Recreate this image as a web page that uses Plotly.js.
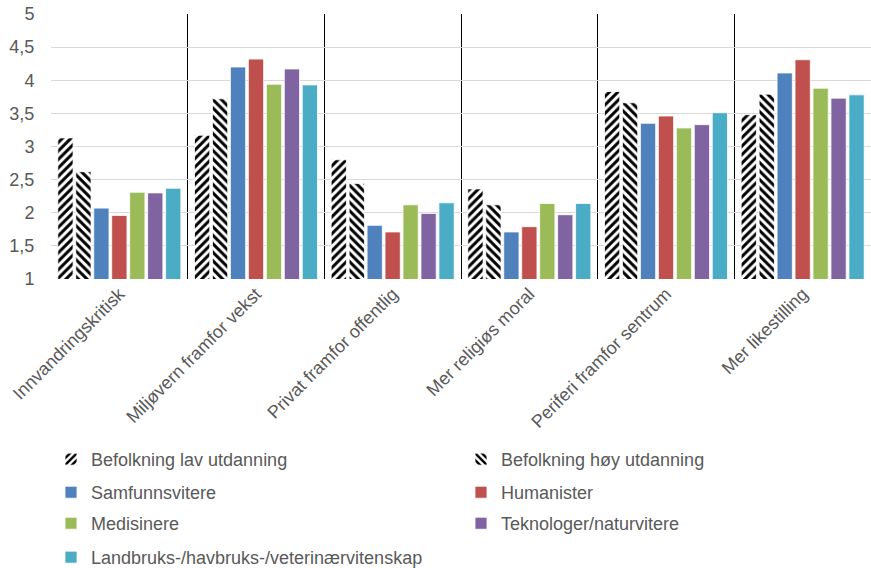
<!DOCTYPE html>
<html>
<head>
<meta charset="utf-8">
<script src="https://cdn.plot.ly/plotly-3.0.1.min.js"></script>
<style>html,body{margin:0;padding:0;background:#fff;}#chart{width:871px;height:568px;}</style>
</head>
<body>
<div id="chart"></div>
<script>
const categories = ["Innvandringskritisk","Miljøvern framfor vekst","Privat framfor offentlig","Mer religiøs moral","Periferi framfor sentrum","Mer likestilling"];
const seriesNames = ["Befolkning lav utdanning","Befolkning høy utdanning","Samfunnsvitere","Humanister","Medisinere","Teknologer/naturvitere","Landbruks-/havbruks-/veterinærvitenskap"];
const lavUtdanning = [3.13, 3.17, 2.80, 2.36, 3.83, 3.48];
const hoyUtdanning = [2.62, 3.72, 2.44, 2.12, 3.66, 3.79];
const samfunnsvitere = [2.07, 4.20, 1.81, 1.71, 3.35, 4.11];
const humanister = [1.96, 4.32, 1.71, 1.79, 3.46, 4.31];
const medisinere = [2.31, 3.94, 2.12, 2.14, 3.28, 3.88];
const teknologer = [2.30, 4.17, 1.99, 1.97, 3.33, 3.73];
const landbruk = [2.37, 3.93, 2.15, 2.14, 3.51, 3.78];
const yTicks = [1, 1.5, 2, 2.5, 3, 3.5, 4, 4.5, 5];

const values = [lavUtdanning, hoyUtdanning, samfunnsvitere, humanister, medisinere, teknologer, landbruk];
const colors = ["#ffffff", "#ffffff", "#4F81BD", "#C0504D", "#9BBB59", "#8064A2", "#4BACC6"];
const patterns = ["/", "\\", "", "", "", "", ""];
const legendRow = ["legend", "legend", "legend2", "legend2", "legend3", "legend3", "legend4"];

const FONT = "Liberation Sans, Arial, sans-serif";
const traces = values.map((v, i) => {
  const t = {
    type: "bar",
    name: seriesNames[i],
    legend: legendRow[i],
    x: categories,
    y: v,
    marker: {
      color: colors[i],
      line: {color: "rgba(255,255,255,0.8)", width: 1}
    }
  };
  if (patterns[i]) {
    t.marker.pattern = {shape: patterns[i], fgcolor: "#000000", bgcolor: "#ffffff", size: 6, solidity: 0.5};
  }
  return t;
});

function legendAt(y) {
  return {
    orientation: "h",
    x: 0.0, xanchor: "left",
    y: y, yanchor: "top",
    entrywidth: 365, entrywidthmode: "pixels",
    font: {family: FONT, size: 18, color: "#595959"},
    bgcolor: "rgba(0,0,0,0)",
    traceorder: "normal"
  };
}

const layout = {
  width: 871, height: 568,
  margin: {l: 51, r: 0, t: 14, b: 289, autoexpand: false},
  paper_bgcolor: "#ffffff", plot_bgcolor: "#ffffff",
  separators: ", ",
  barmode: "group",
  bargap: 0.08,
  bargroupgap: 0.15,
  font: {family: FONT, size: 18, color: "#595959"},
  showlegend: true,
  legend: legendAt(-0.611),
  legend2: legendAt(-0.736),
  legend3: legendAt(-0.853),
  legend4: legendAt(-0.981),
  xaxis: {
    type: "category",
    tickson: "boundaries",
    showgrid: true, gridcolor: "#000000", gridwidth: 1,
    ticks: "", tickangle: -45,
    showline: false, zeroline: false,
    tickfont: {family: FONT, size: 18, color: "#595959"}
  },
  yaxis: {
    range: [1, 5],
    tickvals: yTicks,
    showgrid: true, gridcolor: "#D9D9D9", gridwidth: 1,
    zeroline: false, showline: false,
    ticks: "outside", ticklen: 12, tickcolor: "rgba(0,0,0,0)",
    tickfont: {family: FONT, size: 18, color: "#595959"}
  }
};

Plotly.newPlot("chart", traces, layout, {displayModeBar: false, staticPlot: true});
</script>
</body>
</html>
